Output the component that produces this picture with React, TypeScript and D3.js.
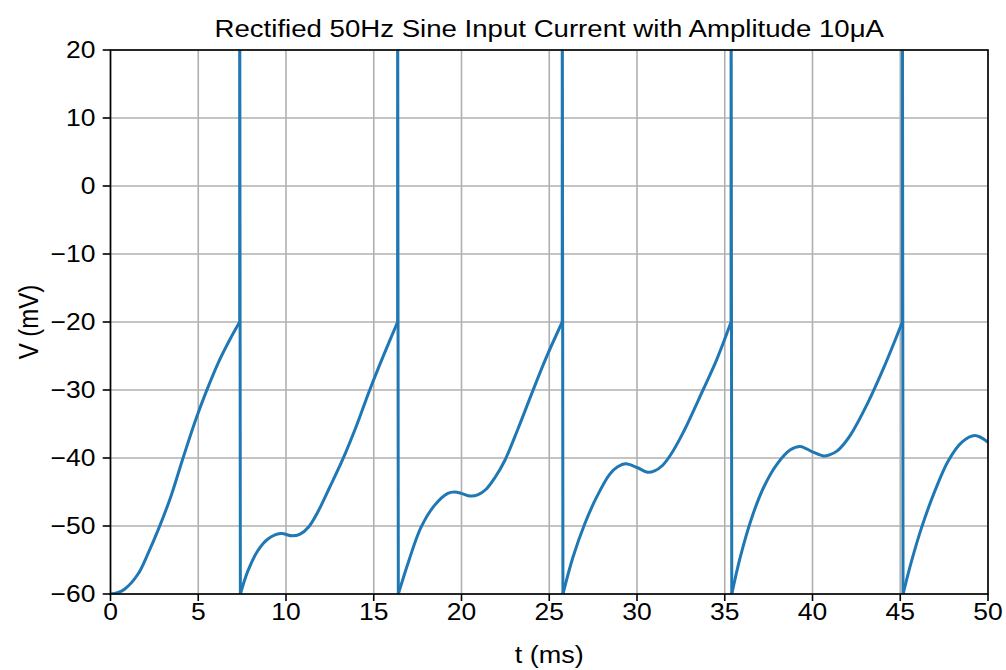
import React from 'react';
import * as d3 from 'd3';

const xTicks = [0, 5, 10, 15, 20, 25, 30, 35, 40, 45, 50];
const yTicks = [-60, -50, -40, -30, -20, -10, 0, 10, 20];
const spikeTimes = [7.36, 16.36, 25.74, 35.36, 45.12];
const thresholdV = -20;
const resetV = -60;
const spikePeakV = 40;

const seg1T = [0, 0.4, 0.8, 1.56, 2.13, 2.79, 3.46, 4.12, 4.85, 5.46, 6.21, 6.88, 7.36];
const seg1V = [-60, -59.8, -59.3, -57.1, -54.1, -50.1, -45.5, -40.1, -34.4, -30.2, -25.6, -22.2, -20];
const seg2T = [7.40, 7.83, 8.40, 8.97, 9.70, 10.35, 10.8, 11.3, 11.82, 12.49, 13.25, 14.01, 14.77, 15.53, 16.36];
const seg2V = [-60, -56.6, -53.6, -51.9, -51.1, -51.45, -51.2, -50.1, -47.9, -44.3, -40.1, -35.3, -30.0, -25.1, -20];
const seg3T = [16.40, 17.0, 17.69, 18.45, 19.22, 19.6, 20.0, 20.5, 20.95, 21.4, 21.9, 22.46, 23.22, 23.99, 24.85, 25.74];
const seg3V = [-60, -55.1, -50.2, -47.0, -45.2, -45.0, -45.2, -45.6, -45.4, -44.6, -42.9, -40.4, -35.7, -30.6, -25.1, -20];
const seg4T = [25.78, 26.35, 27.02, 27.69, 28.44, 28.9, 29.35, 30.0, 30.6, 31.0, 31.45, 31.9, 32.62, 33.76, 34.53, 35.36];
const seg4V = [-60, -54.6, -49.7, -45.8, -42.4, -41.3, -40.85, -41.4, -42.1, -41.9, -41.1, -39.6, -36.3, -30.0, -25.6, -20];
const seg5T = [35.40, 35.88, 36.55, 37.22, 37.98, 38.74, 39.3, 40.0, 40.65, 41.0, 41.41, 41.8, 42.17, 43.13, 44.08, 45.12];
const seg5V = [-60, -54.6, -48.7, -44.3, -40.9, -38.8, -38.3, -39.1, -39.7, -39.5, -38.95, -37.9, -36.6, -32.0, -26.6, -20];
const seg6T = [45.16, 45.65, 46.22, 46.98, 47.74, 48.5, 49.26, 50.0];
const seg6V = [-60, -55.1, -50.2, -44.8, -40.4, -37.7, -36.7, -37.7];

const segmentsT = [seg1T, seg2T, seg3T, seg4T, seg5T, seg6T];
const segmentsV = [seg1V, seg2V, seg3V, seg4V, seg5V, seg6V];

const W = 1006;
const H = 670;
const M = { left: 110.5, right: 988, top: 50, bottom: 594 };
const SX = 1.127; // horizontal text stretch
const FONT = "'Liberation Sans', Arial, Helvetica, sans-serif";
const BLUE = '#1f77b4';

const fmt = (v: number) => (v < 0 ? '\u2212' + Math.abs(v) : String(v));

export default function App() {
  const x = d3.scaleLinear().domain([0, 50]).range([M.left, M.right]);
  const y = d3.scaleLinear().domain([-60, 20]).range([M.bottom, M.top]);

  const smooth = d3
    .line<[number, number]>()
    .x((d) => x(d[0]))
    .y((d) => y(d[1]))
    .curve(d3.curveCatmullRom.alpha(0.5));
  const straight = d3
    .line<[number, number]>()
    .x((d) => x(d[0]))
    .y((d) => y(d[1]));

  const segPaths = segmentsT.map((ts, i) =>
    smooth(ts.map((t, j) => [t, segmentsV[i][j]] as [number, number]))
  );
  const spikePaths = spikeTimes.map((t) =>
    straight([
      [t, thresholdV],
      [t, spikePeakV],
      [t + 0.04, resetV],
    ])
  );

  return (
    <svg
      width={W}
      height={H}
      style={{ position: 'absolute', left: 0, top: 0, display: 'block', background: '#fff' }}
      fontFamily={FONT}
    >
      <defs>
        <clipPath id="plotClip">
          <rect x={M.left} y={M.top} width={M.right - M.left} height={M.bottom - M.top} />
        </clipPath>
      </defs>
      <rect x={0} y={0} width={W} height={H} fill="#fff" />
      {xTicks.map((t) => (
        <line key={'gx' + t} x1={x(t)} x2={x(t)} y1={M.top} y2={M.bottom} stroke="#b0b0b0" strokeWidth={1.6} />
      ))}
      {yTicks.map((t) => (
        <line key={'gy' + t} x1={M.left} x2={M.right} y1={y(t)} y2={y(t)} stroke="#b0b0b0" strokeWidth={1.6} />
      ))}
      <g clipPath="url(#plotClip)" fill="none" stroke={BLUE} strokeWidth={3} strokeLinejoin="round">
        {segPaths.map((p, i) => (
          <path key={'s' + i} d={p || ''} />
        ))}
        {spikePaths.map((p, i) => (
          <path key={'k' + i} d={p || ''} />
        ))}
      </g>
      <rect
        x={M.left}
        y={M.top}
        width={M.right - M.left}
        height={M.bottom - M.top}
        fill="none"
        stroke="#000"
        strokeWidth={1.6}
      />
      {xTicks.map((t) => (
        <g key={'xt' + t}>
          <line x1={x(t)} x2={x(t)} y1={M.bottom} y2={M.bottom + 7} stroke="#000" strokeWidth={1.6} />
          <text
            transform={`translate(${x(t)},${620}) scale(${SX},1)`}
            textAnchor="middle"
            fontSize={23.5}
            fill="#000"
          >
            {fmt(t)}
          </text>
        </g>
      ))}
      {yTicks.map((t) => (
        <g key={'yt' + t}>
          <line x1={M.left - 7.8} x2={M.left} y1={y(t)} y2={y(t)} stroke="#000" strokeWidth={1.6} />
          <text
            transform={`translate(${95.5},${y(t) + 8.4}) scale(${SX},1)`}
            textAnchor="end"
            fontSize={23.5}
            fill="#000"
          >
            {fmt(t)}
          </text>
        </g>
      ))}
      <text
        transform={`translate(${(M.left + M.right) / 2},${663}) scale(${SX},1)`}
        textAnchor="middle"
        fontSize={24}
        fill="#000"
      >
        t (ms)
      </text>
      <text
        transform={`translate(${38},${(M.top + M.bottom) / 2}) scale(${SX},1) rotate(-90)`}
        textAnchor="middle"
        fontSize={24}
        fill="#000"
      >
        V (mV)
      </text>
      <text
        transform={`translate(${(M.left + M.right) / 2},${37}) scale(${SX},1)`}
        textAnchor="middle"
        fontSize={24.5}
        fill="#000"
      >
        Rectified 50Hz Sine Input Current with Amplitude 10μA
      </text>
    </svg>
  );
}
